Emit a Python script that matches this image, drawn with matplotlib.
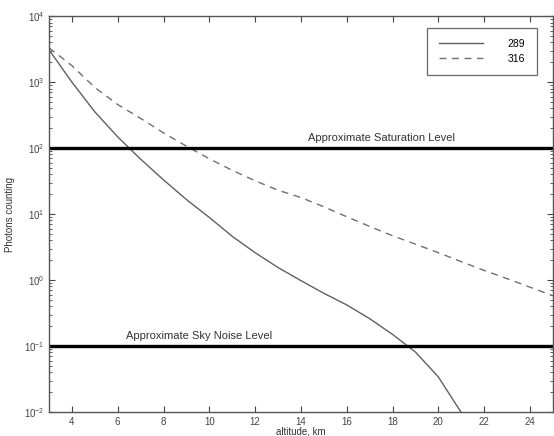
import matplotlib
matplotlib.use("Agg")
import matplotlib.pyplot as plt
from matplotlib.ticker import FixedLocator, LogFormatterSciNotation, NullFormatter

plt.rcParams["font.family"] = ["Liberation Sans", "DejaVu Sans"]
plt.rcParams["mathtext.fontset"] = "custom"
plt.rcParams["mathtext.rm"] = "Liberation Sans"
plt.rcParams["mathtext.it"] = "Liberation Sans"

# photon counts vs altitude for the two wavelengths
alt_289 = [3, 4, 5, 6, 7, 8, 9, 10, 11, 12, 13, 14, 15, 16, 17, 18, 19, 20, 21]
counts_289 = [3100, 1000, 355, 148, 68, 33, 16.6, 8.9, 4.6, 2.6, 1.55, 0.98,
              0.63, 0.42, 0.26, 0.15, 0.081, 0.034, 0.0098]

alt_316 = [3, 4, 5, 6, 7, 8, 9, 10, 11, 12, 13, 14, 15, 16, 17, 18, 19, 20,
           21, 22, 23, 24, 25]
counts_316 = [3300, 1780, 830, 457, 282, 170, 107, 69, 46, 32, 23, 17.8, 12.9,
              9.1, 6.5, 4.7, 3.5, 2.6, 1.9, 1.4, 1.05, 0.78, 0.58]

saturation_level = 100
sky_noise_level = 0.1
x_ticks = [4, 6, 8, 10, 12, 14, 16, 18, 20, 22, 24]
y_decades = [1e-2, 1e-1, 1e0, 1e1, 1e2, 1e3, 1e4]

fig = plt.figure(figsize=(5.54, 4.36), dpi=100)
ax = fig.add_axes([0.0884, 0.055, 0.9096, 0.908])

ax.plot(alt_289, counts_289, color="#606060", lw=1.0, label="289")
ax.plot(alt_316, counts_316, color="#707070", lw=1.0, ls=(0, (5, 4)), label="316")

ax.axhline(saturation_level, color="black", lw=2.4)
ax.axhline(sky_noise_level, color="black", lw=2.4)

ax.text(17.5, 118, "Approximate Saturation Level", ha="center", va="bottom",
        fontsize=8, color="#333333")
ax.text(9.57, 0.118, "Approximate Sky Noise Level", ha="center", va="bottom",
        fontsize=8, color="#333333")

ax.set_yscale("log")
ax.set_xlim(3, 25)
ax.set_ylim(1e-2, 1e4)
ax.set_xticks(x_ticks)

# only ticks inside the visible decades
minor = [m * d for d in y_decades[:-1] for m in range(2, 10)]
ax.yaxis.set_major_locator(FixedLocator(y_decades))
ax.yaxis.set_major_formatter(LogFormatterSciNotation())
ax.yaxis.set_minor_locator(FixedLocator(minor))
ax.yaxis.set_minor_formatter(NullFormatter())

ax.tick_params(which="both", direction="in", top=True, right=True,
               labelsize=7, colors="#444444")
ax.tick_params(which="major", length=4, width=0.8)
ax.tick_params(which="minor", length=2, width=0.6)
for s in ax.spines.values():
    s.set_color("#555555")
    s.set_linewidth(1.0)

ax.set_xlabel("altitude, km", fontsize=7, color="#333333", labelpad=0)
ax.set_ylabel("Photons counting", fontsize=7, color="#333333", labelpad=6)

leg = ax.legend(loc="upper right", bbox_to_anchor=(0.978, 0.984), fontsize=7.5,
                frameon=True, fancybox=False, handlelength=4.2,
                handletextpad=2.4, borderpad=1.1, labelspacing=0.45)
leg.get_frame().set_edgecolor("#444444")
leg.get_frame().set_linewidth(0.9)

fig.savefig("out.png", dpi=100)
